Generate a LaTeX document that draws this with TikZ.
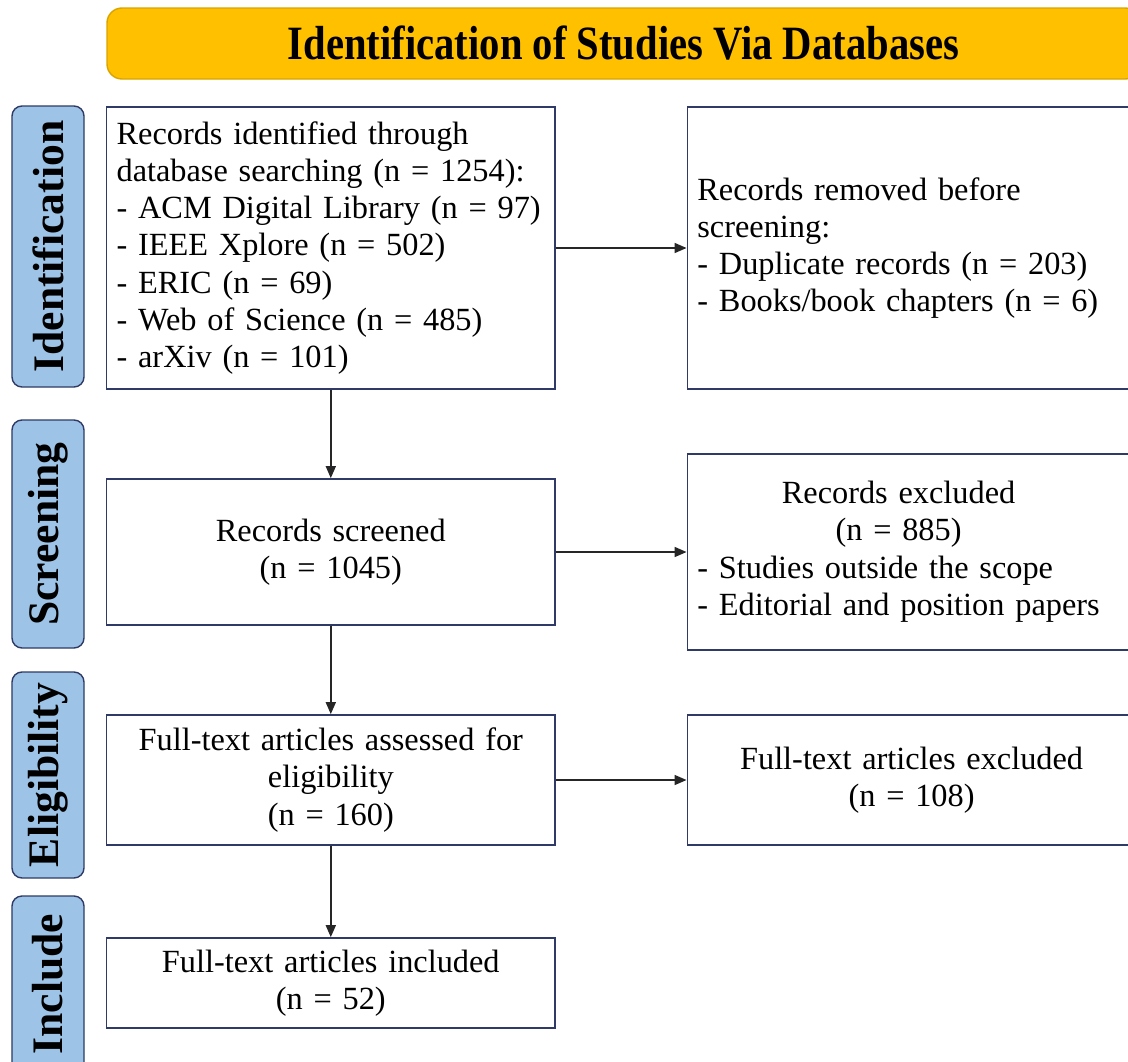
\documentclass[tikz,border=0pt]{standalone}
\usepackage{graphicx}
\usepackage{fontspec}
\setmainfont{Liberation Serif}
\usetikzlibrary{positioning, arrows.meta}
\definecolor{headgold}{HTML}{FFC000}
\definecolor{headedge}{HTML}{D9A400}
\definecolor{stageblue}{HTML}{9DC3E6}
\definecolor{navy}{HTML}{2F3B66}
\definecolor{arrowgray}{HTML}{262626}
\tikzset{
  stage/.style={draw=navy, line width=1pt, fill=stageblue, rounded corners=0.25cm,
    rotate=90, minimum height=1.8cm, inner sep=0pt,
    font=\fontsize{31}{31}\selectfont\bfseries},
  flowbox/.style={draw=navy, line width=1.2pt, fill=white, minimum width=11.21cm,
    inner xsep=0.25cm, text width=10.71cm, font=\fontsize{23}{26.5}\selectfont},
  flow/.style={draw=arrowgray, line width=1.1pt, -{Triangle[length=0.3cm, width=0.25cm]}}
}

\begin{document}
\begin{tikzpicture}
    \clip (0,0) rectangle (28.2,-26.525);
    % title bar
    \node (header) [draw=headedge, line width=1pt, fill=headgold, rounded corners=0.375cm,
      minimum width=25.825cm, minimum height=1.775cm] at (15.5875,-1.0875)
      {\fontsize{34}{34}\selectfont\bfseries\scalebox{0.85}[1]{Identification of Studies Via Databases}};

    % stages
    \node (ident) [stage, minimum width=7.025cm] at (1.2,-6.1625) {Identification};
    \node (screen) [stage, minimum width=5.7cm] at (1.2,-13.35) {Screening};
    \node (elig) [stage, minimum width=5.15cm] at (1.2,-19.375) {Eligibility};
    \node (incl) [stage, minimum width=4.4cm] at (1.2,-24.6) {Include};

    % main column
    \node (recId) [flowbox, align=left, minimum height=7.05cm] at (8.27,-6.2)
      {Records identified through\\ database searching (n = 1254):\\ - ACM Digital Library (n = 97)\\ - IEEE Xplore (n = 502)\\ - ERIC (n = 69)\\ - Web of Science (n = 485)\\ - arXiv (n = 101)};
    \node (recScreened) [flowbox, align=center, minimum height=3.65cm] at (8.27,-13.8)
      {Records screened\\ (n = 1045)};
    \node (ftAssessed) [flowbox, align=center, minimum height=3.25cm] at (8.27,-19.5)
      {Full-text articles assessed for\\ eligibility\\ (n = 160)};
    \node (ftIncluded) [flowbox, align=center, minimum height=2.25cm] at (8.27,-24.575)
      {Full-text articles included\\ (n = 52)};

    % exclusions
    \node (recRemoved) [flowbox, align=left, minimum height=7.05cm] at (22.79,-6.2)
      {Records removed before\\ screening:\\ - Duplicate records (n = 203)\\ - Books/book chapters (n = 6)};
    \node (recExcluded) [flowbox, align=left, minimum height=4.9cm] at (22.79,-13.8)
      {\begin{tabular}{@{}l@{}}
        \multicolumn{1}{@{}c@{}}{Records excluded}\\
        \multicolumn{1}{@{}c@{}}{(n = 885)}\\
        - Studies outside the scope\\
        - Editorial and position papers
      \end{tabular}};
    \node (ftExcluded) [flowbox, align=center, minimum height=3.25cm] at (22.79,-19.5)
      {Full-text articles excluded\\ (n = 108)};

    % arrows
    \draw [flow] (recId) -- (recScreened);
    \draw [flow] (recScreened) -- (ftAssessed);
    \draw [flow] (ftAssessed) -- (ftIncluded);
    \draw [flow] (recId) -- (recRemoved);
    \draw [flow] (recScreened) -- (recExcluded);
    \draw [flow] (ftAssessed) -- (ftExcluded);
\end{tikzpicture}
\end{document}
